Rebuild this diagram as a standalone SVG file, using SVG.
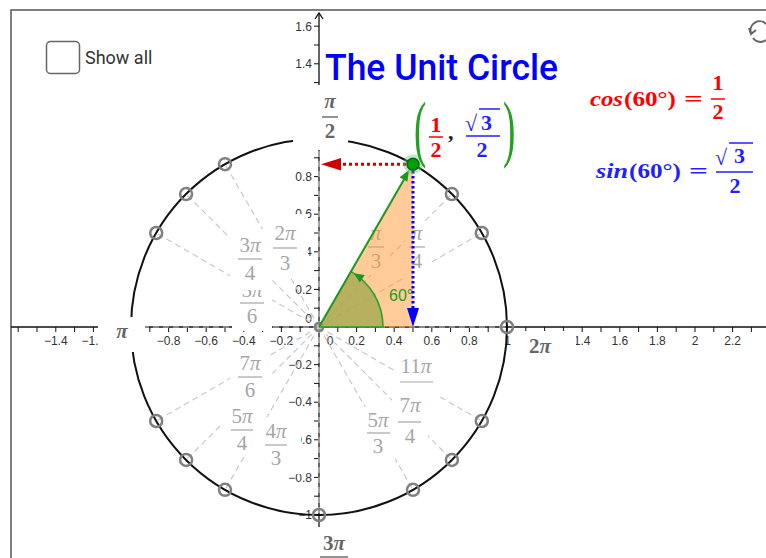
<svg xmlns="http://www.w3.org/2000/svg" width="766" height="558" viewBox="0 0 766 558">
<style>
.ax{stroke:#111;stroke-width:1.3;fill:none}
.tk{stroke:#111;stroke-width:1}
.tl{font-family:"Liberation Sans",Arial,sans-serif;font-size:12px;fill:#333}
.tlx{text-anchor:middle}
.tly{text-anchor:end}
.spoke{stroke:#c8c8c8;stroke-width:1.2;stroke-dasharray:6,4;fill:none}
.mk{fill:none;stroke:#808080;stroke-width:2.5}
.lb{fill:#fff}
.fr{font-family:"Liberation Serif","DejaVu Serif",serif;font-size:21px;fill:#a6a6a6;text-anchor:middle}
.frl{stroke:#a6a6a6;stroke-width:1.2}
.fa{font-family:"Liberation Serif","DejaVu Serif",serif;font-size:21px;font-weight:bold;fill:#666;text-anchor:middle}
.fal{stroke:#666;stroke-width:1.4}
.p{font-style:italic}
.fm{font-family:"Liberation Serif","DejaVu Serif",serif;font-weight:bold;font-size:22px}
.red{fill:#ff0000}
.blu{fill:#1f1fff}
</style>
<rect width="766" height="558" fill="#fff"/>
<g id="frame" stroke="#555" stroke-width="1.5" fill="none">
<path d="M11,558 V10 H766"/>
</g>
<g id="refresh" fill="none" stroke="#666" stroke-width="2">
<path d="M751,33 A9,9 0 0 1 766,24"/>
<path d="M749,28 L751,34 L756,30"/>
<path d="M766,40 A9,9 0 0 1 753,38"/>
</g>
<g id="axes">
<line class="ax" x1="11" y1="327" x2="766" y2="327"/>
<line class="ax" x1="319" y1="13" x2="319" y2="558"/>
<path class="ax" d="M315,19 L319,13 L323,19"/>
<g class="tk">
<path d="M18.2,327v5M37,327v5M55.8,327v5M74.6,327v5M93.4,327v5M112.2,327v5M131,327v5M149.8,327v5M168.6,327v5M187.4,327v5M206.2,327v5M225,327v5M243.8,327v5M262.6,327v5M281.4,327v5M300.2,327v5M337.8,327v5M356.6,327v5M375.4,327v5M394.2,327v5M413,327v5M431.8,327v5M450.6,327v5M469.4,327v5M488.2,327v5M507,327v5M525.8,327v5M544.6,327v5M563.4,327v5M582.2,327v5M601,327v5M619.8,327v5M638.6,327v5M657.4,327v5M676.2,327v5M695,327v5M713.8,327v5M732.6,327v5M751.4,327v5"/>
<path d="M314,26.2h5M314,45h5M314,63.8h5M314,82.6h5M314,101.4h5M314,120.2h5M314,139h5M314,157.8h5M314,176.6h5M314,195.4h5M314,214.2h5M314,233h5M314,251.8h5M314,270.6h5M314,289.4h5M314,308.2h5M314,345.8h5M314,364.6h5M314,383.4h5M314,402.2h5M314,421h5M314,439.8h5M314,458.6h5M314,477.4h5M314,496.2h5M314,515h5M314,533.8h5M314,552.6h5"/>
</g>
<g class="tl tlx">
<text x="55.8" y="345">−1.4</text><text x="93.4" y="345">−1.2</text>
<text x="168.6" y="345">−0.8</text><text x="206.2" y="345">−0.6</text><text x="243.8" y="345">−0.4</text><text x="281.4" y="345">−0.2</text>
<text x="330" y="345">0</text><text x="356.6" y="345">0.2</text><text x="394.2" y="345">0.4</text><text x="431.8" y="345">0.6</text><text x="469.4" y="345">0.8</text>
<text x="507.5" y="345">1</text><text x="582.2" y="345">1.4</text><text x="619.8" y="345">1.6</text><text x="657.4" y="345">1.8</text><text x="695" y="345">2</text><text x="732.6" y="345">2.2</text>
</g>
<g class="tl tly">
<text x="312" y="30.5">1.6</text><text x="312" y="68">1.4</text>
<text x="312" y="180.8">0.8</text><text x="312" y="218.4">0.6</text><text x="312" y="256">0.4</text><text x="312" y="293.6">0.2</text><text x="312" y="323">0</text>
<text x="312" y="368.8">−0.2</text><text x="312" y="406.4">−0.4</text><text x="312" y="444">−0.6</text><text x="312" y="481.6">−0.8</text><text x="312" y="519">−1</text>
</g>
</g>
<g id="unit-circle">
<circle cx="319" cy="327" r="188" fill="none" stroke="#111" stroke-width="2"/>
</g>
<g id="connectors">
<line class="spoke" x1="319" y1="327" x2="507" y2="327"/>
<line class="spoke" x1="319" y1="327" x2="481.8" y2="233"/>
<line class="spoke" x1="319" y1="327" x2="451.9" y2="194.1"/>
<line class="spoke" x1="319" y1="327" x2="413" y2="164.2"/>
<line class="spoke" x1="319" y1="327" x2="319" y2="139"/>
<line class="spoke" x1="319" y1="327" x2="225" y2="164.2"/>
<line class="spoke" x1="319" y1="327" x2="186.1" y2="194.1"/>
<line class="spoke" x1="319" y1="327" x2="156.2" y2="233"/>
<line class="spoke" x1="319" y1="327" x2="131" y2="327"/>
<line class="spoke" x1="319" y1="327" x2="156.2" y2="421"/>
<line class="spoke" x1="319" y1="327" x2="186.1" y2="459.9"/>
<line class="spoke" x1="319" y1="327" x2="225" y2="489.8"/>
<line class="spoke" x1="319" y1="327" x2="319" y2="515"/>
<line class="spoke" x1="319" y1="327" x2="413" y2="489.8"/>
<line class="spoke" x1="319" y1="327" x2="451.9" y2="459.9"/>
<line class="spoke" x1="319" y1="327" x2="481.8" y2="421"/>
</g>
<g id="markers">
<circle class="mk" cx="507" cy="327" r="6"/>
<circle class="mk" cx="481.8" cy="233" r="6"/>
<circle class="mk" cx="451.9" cy="194.1" r="6"/>
<circle class="mk" cx="319" cy="139" r="6"/>
<circle class="mk" cx="225" cy="164.2" r="6"/>
<circle class="mk" cx="186.1" cy="194.1" r="6"/>
<circle class="mk" cx="156.2" cy="233" r="6"/>
<circle class="mk" cx="131" cy="327" r="6"/>
<circle class="mk" cx="156.2" cy="421" r="6"/>
<circle class="mk" cx="186.1" cy="459.9" r="6"/>
<circle class="mk" cx="225" cy="489.8" r="6"/>
<circle class="mk" cx="319" cy="515" r="6"/>
<circle class="mk" cx="413" cy="489.8" r="6"/>
<circle class="mk" cx="451.9" cy="459.9" r="6"/>
<circle class="mk" cx="481.8" cy="421" r="6"/>
<circle class="mk" cx="319" cy="327" r="4" stroke-width="1.5" stroke="#aaa"/>
</g>
<g id="label-pi-2"><rect class="lb" x="293" y="85" width="55" height="65"/><text class="fa p" x="330" y="108">π</text><line class="fal" x1="322" y1="117" x2="338" y2="117"/><text class="fa" x="330" y="138">2</text></g>
<g id="label-pi"><rect class="lb" x="98" y="317" width="47" height="35"/><text class="fa p" x="122" y="338">π</text></g>
<g id="label-2pi"><rect class="lb" x="515" y="331" width="61" height="34"/><text class="fa" x="540" y="353">2<tspan class="p">π</tspan></text></g>
<g id="label-3pi-2"><rect class="lb" x="300" y="527" width="70" height="31"/><text class="fa" x="334" y="550">3<tspan class="p">π</tspan></text><line class="fal" x1="320" y1="557" x2="348" y2="557"/></g>
<g id="label-5pi-6"><rect class="lb" x="232" y="280" width="40" height="51"/><text class="fr" x="252" y="297">5<tspan class="p">π</tspan></text><line class="frl" x1="240" y1="303" x2="264" y2="303"/><text class="fr" x="252" y="323">6</text></g>
<g id="label-3pi-4"><rect class="lb" x="230" y="229" width="40" height="61"/><text class="fr" x="250" y="252">3<tspan class="p">π</tspan></text><line class="frl" x1="238" y1="259" x2="262" y2="259"/><text class="fr" x="250" y="280">4</text></g>
<g id="label-2pi-3"><rect class="lb" x="264" y="214" width="44" height="64"/><text class="fr" x="285" y="240">2<tspan class="p">π</tspan></text><line class="frl" x1="273" y1="248" x2="297" y2="248"/><text class="fr" x="285" y="270">3</text></g>
<g id="label-pi-3"><rect class="lb" x="363" y="221" width="27" height="54"/><text class="fr p" x="376" y="240">π</text><line class="frl" x1="368" y1="247" x2="384" y2="247"/><text class="fr" x="376" y="268">3</text></g>
<g id="label-pi-4"><rect class="lb" x="405" y="221" width="27" height="58"/><text class="fr p" x="417" y="240">π</text><line class="frl" x1="409" y1="247" x2="425" y2="247"/><text class="fr" x="417" y="268">4</text></g>
<g id="label-7pi-6"><rect class="lb" x="230" y="345" width="40" height="58"/><text class="fr" x="250" y="370">7<tspan class="p">π</tspan></text><line class="frl" x1="238" y1="377" x2="262" y2="377"/><text class="fr" x="250" y="397">6</text></g>
<g id="label-5pi-4"><rect class="lb" x="222" y="402" width="40" height="55"/><text class="fr" x="242" y="423">5<tspan class="p">π</tspan></text><line class="frl" x1="231" y1="430" x2="253" y2="430"/><text class="fr" x="242" y="450">4</text></g>
<g id="label-4pi-3"><rect class="lb" x="256" y="417" width="45" height="57"/><text class="fr" x="276" y="438">4<tspan class="p">π</tspan></text><line class="frl" x1="265" y1="445" x2="287" y2="445"/><text class="fr" x="276" y="465">3</text></g>
<g id="label-11pi-6"><rect class="lb" x="394" y="351" width="44" height="56"/><text class="fr" x="416" y="373">11<tspan class="p">π</tspan></text><line class="frl" x1="400" y1="382" x2="433" y2="382"/><text class="fr" x="416" y="404">6</text></g>
<g id="label-5pi-3"><rect class="lb" x="361" y="407" width="35" height="52"/><text class="fr" x="378" y="427">5<tspan class="p">π</tspan></text><line class="frl" x1="367" y1="433" x2="390" y2="433"/><text class="fr" x="378" y="453">3</text></g>
<g id="label-7pi-4"><rect class="lb" x="392" y="389" width="36" height="60"/><text class="fr" x="410" y="412">7<tspan class="p">π</tspan></text><line class="frl" x1="398" y1="422" x2="421" y2="422"/><text class="fr" x="410" y="443">4</text></g>
<g id="triangle"><polygon points="319,327 413,327 413,164.2" fill="#ff9933" fill-opacity="0.5"/></g>
<g id="angle">
<path d="M319,327 L383,327 A64,64 0 0 0 351,271.6 Z" fill="#a9aa55" fill-opacity="0.85" stroke="none"/>
<path d="M319,327 L383,327 A64,64 0 0 0 351,271.6" fill="none" stroke="#2ea02e" stroke-width="1.6"/>
<polygon points="353.9,273.3 364.8,275 359.8,282.6" fill="#1f961f"/>
<text x="389" y="301" font-family="Liberation Sans,Arial,sans-serif" font-size="16" fill="#1f9a1f">60°</text>
</g>
<g id="vectors">
<line x1="319" y1="327" x2="406" y2="176" stroke="#1f961f" stroke-width="2"/>
<polygon points="409,170 407.4,181.8 399.6,177.3" fill="#1f961f"/>
<line x1="413" y1="171" x2="413" y2="308" stroke="#0000ff" stroke-width="3" stroke-dasharray="2.5,2.5"/>
<polygon points="413,327 407,308 419,308" fill="#0000ff"/>
<line x1="406" y1="164.2" x2="341" y2="164.2" stroke="#cc0000" stroke-width="3" stroke-dasharray="3,3"/>
<polygon points="321,164.2 341,158 341,170.4" fill="#cc0000"/>
</g>
<g id="point-60">
<circle cx="413" cy="164.2" r="10" fill="#6c6" fill-opacity="0.4"/>
<circle cx="413" cy="164.2" r="6" fill="#00a000" stroke="#063" stroke-width="1.5"/>
</g>
<g id="coord-label">
<text transform="translate(414,153) scale(0.5,1)" font-family="Liberation Serif,serif" font-size="74" fill="#22a022">(</text>
<text transform="translate(503,153) scale(0.5,1)" font-family="Liberation Serif,serif" font-size="74" fill="#22a022">)</text>
<text class="fm red" x="436" y="132" text-anchor="middle">1</text>
<line x1="429" y1="137" x2="443" y2="137" stroke="#ff0000" stroke-width="1.5"/>
<text class="fm red" x="436" y="157" text-anchor="middle">2</text>
<text class="fm" x="448" y="139" fill="#222">,</text>
<text class="fm blu" x="465" y="131" font-size="27">√</text>
<line x1="479" y1="109" x2="500" y2="109" stroke="#1f1fff" stroke-width="1.5"/>
<text class="fm blu" x="481" y="130">3</text>
<line x1="466" y1="136" x2="500" y2="136" stroke="#1f1fff" stroke-width="1.5"/>
<text class="fm blu" x="482" y="157" text-anchor="middle">2</text>
</g>
<g id="title"><text x="325" y="80" font-family="Roboto,'Liberation Sans',sans-serif" font-size="36" font-weight="500" fill="#0000ff" textLength="233" lengthAdjust="spacingAndGlyphs">The Unit Circle</text></g>
<g id="cos-formula">
<text class="fm red" x="590" y="106" font-style="italic" textLength="33" lengthAdjust="spacingAndGlyphs">cos</text>
<text class="fm red" x="624" y="106" textLength="52" lengthAdjust="spacingAndGlyphs">(60°)</text>
<text class="fm red" x="684" y="106" textLength="19" lengthAdjust="spacingAndGlyphs">=</text>
<text class="fm red" x="718" y="90" font-size="19" text-anchor="middle">1</text>
<line x1="711" y1="99" x2="725" y2="99" stroke="#ff0000" stroke-width="1.5"/>
<text class="fm red" x="718" y="119" font-size="19" text-anchor="middle">2</text>
</g>
<g id="sin-formula">
<text class="fm blu" x="596" y="178" font-style="italic" textLength="32" lengthAdjust="spacingAndGlyphs">sin</text>
<text class="fm blu" x="629" y="178" textLength="52" lengthAdjust="spacingAndGlyphs">(60°)</text>
<text class="fm blu" x="689" y="178" textLength="19" lengthAdjust="spacingAndGlyphs">=</text>
<text class="fm blu" x="715" y="165" font-size="27">√</text>
<line x1="729" y1="143" x2="753" y2="143" stroke="#1f1fff" stroke-width="1.5"/>
<text class="fm blu" x="734" y="163">3</text>
<line x1="716" y1="172" x2="753" y2="172" stroke="#1f1fff" stroke-width="1.5"/>
<text class="fm blu" x="735" y="193" text-anchor="middle">2</text>
</g>
<g id="show-all">
<rect x="46.5" y="41.5" width="33" height="32" rx="4" fill="#fff" stroke="#666" stroke-width="1.5"/>
<text x="85" y="64" font-family="Roboto,'Liberation Sans',sans-serif" font-size="18" fill="#333">Show all</text>
</g>
</svg>
